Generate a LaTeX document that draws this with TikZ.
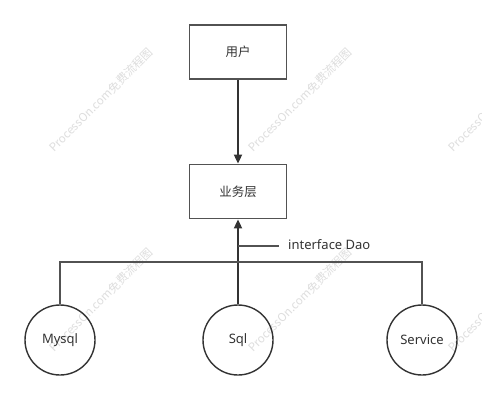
\documentclass[tikz,border=0pt]{standalone}
\usepackage{fontspec}
\setmainfont{Noto Sans}
\newfontfamily\cjk{Noto Sans CJK SC}
\usetikzlibrary{arrows.meta}
\begin{document}
\begin{tikzpicture}[x=1pt,y=-1pt,
  box/.style={draw=black!68,line width=1.8pt,minimum width=97pt,minimum height=54pt,inner sep=0pt,font=\cjk\fontsize{12.5}{14}\selectfont,text=black!80},
  circ/.style={draw=black!80,line width=1.4pt,circle,minimum size=70pt,inner sep=0pt,font=\fontsize{13}{15}\selectfont,text=black!80},
  conn/.style={draw=black!80,line width=1.8pt},
  arr/.style={conn,-{Triangle[length=9pt,width=8pt]}},
  wm/.style={text=black!13,rotate=45,font=\cjk\fontsize{11.5}{13}\selectfont,inner sep=0pt}]
\useasboundingbox (0,0) rectangle (482,400);
\clip (0,0) rectangle (482,400);
\fill[white] (0,0) rectangle (482,400);
% watermarks
\foreach \wx/\wy/\k in {101/100/a,300/100/b,500/100/c,101/300/d,300/300/e,500/300/f}
  \node[wm] (wm\k) at (\wx,\wy) {ProcessOn.com免费流程图};
% nodes
\node[box] (user) at (238,52) {用户};
\node[box] (biz) at (238,191.5) {业务层};
\node[circ] (mysql) at (60,340) {Mysql};
\node[circ] (sql) at (238,340) {Sql};
\node[circ] (svc) at (422,340) {Service};
\coordinate (bus) at (238,262);
\coordinate (tick) at (279,246);
\node[anchor=west,inner sep=0pt,font=\fontsize{13}{15}\selectfont,text=black!80] (dao) at (288,245) {interface Dao};
% connectors
\draw[arr] (user.south) -- (biz.north);
\draw[arr] (sql.north) -- (biz.south);
\draw[conn,draw=black!68] (mysql.north) |- (svc.north |- bus) -- (svc.north);
\draw[conn,draw=black!68] (238,246) -- (tick);
\end{tikzpicture}
\end{document}
